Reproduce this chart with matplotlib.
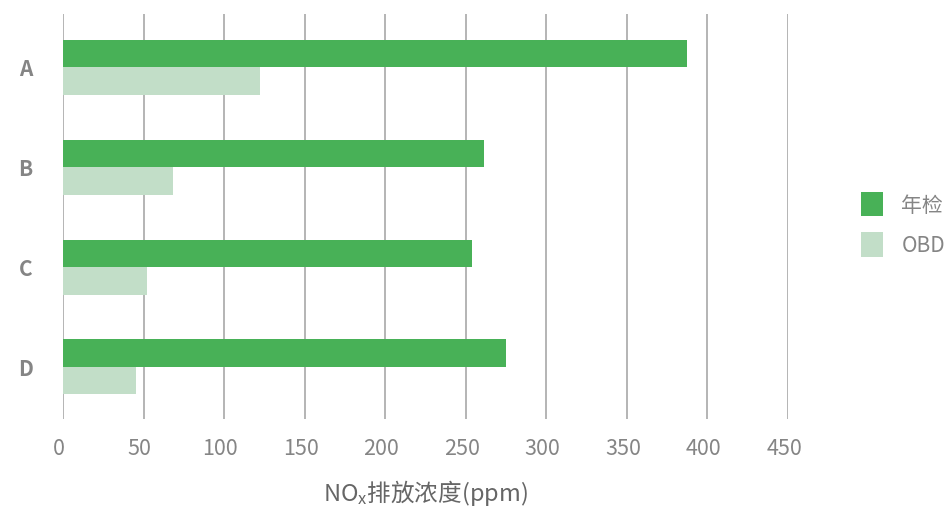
import matplotlib
matplotlib.use("Agg")
import matplotlib.pyplot as plt
import matplotlib.transforms as mtransforms
import numpy as np

plt.rcParams['font.family'] = ['Noto Sans CJK SC', 'DejaVu Sans']
plt.rcParams['mathtext.fontset'] = 'custom'
plt.rcParams['mathtext.rm'] = 'Noto Sans CJK SC'
plt.rcParams['mathtext.it'] = 'Noto Sans CJK SC'

categories = ['A', 'B', 'C', 'D']
series_names = ['年检', 'OBD']
annual = [387, 261, 254, 275]
obd = [122, 68, 52, 45]
xticks = [0, 50, 100, 150, 200, 250, 300, 350, 400, 450]

c_annual = '#48b157'
c_obd = '#c2dec8'
grey = '#858585'

fig = plt.figure(figsize=(9.47, 5.10), dpi=100)
ax = fig.add_axes([63/947, 1 - 420/510, (788-63)/947, (420-15)/510])

y = np.arange(len(categories))
h = 0.275
ax.barh(y - h/2, annual, height=h, color=c_annual, label=series_names[0], zorder=3)
ax.barh(y + h/2, obd, height=h, color=c_obd, label=series_names[1], zorder=3)

ax.set_xlim(0, 450)
ax.set_ylim(3.52, -0.53)
ax.set_xticks(xticks)
ax.set_xticklabels([str(t) for t in xticks], color=grey, fontsize=15.5, fontweight='medium')
ax.set_yticks(y)
ax.set_yticklabels(categories, color=grey, fontsize=15, fontweight='bold')
ax.tick_params(axis='both', length=0)
ax.tick_params(axis='x', pad=13)
for lbl in ax.get_yticklabels():
    lbl.set_horizontalalignment('center')
ax.tick_params(axis='y', pad=27)
shift = mtransforms.ScaledTranslation(-4/100, 0, fig.dpi_scale_trans)
for lbl in ax.get_xticklabels():
    lbl.set_transform(lbl.get_transform() + shift)
ax.grid(axis='x', color='#a8a8a8', linewidth=1.2, zorder=0)
for s in ax.spines.values():
    s.set_visible(False)

ax.set_xlabel(r'NO$_{\mathrm{x}}$排放浓度(ppm)', color='#666666', fontsize=17,
              fontweight='medium', labelpad=13)

leg = fig.legend(loc='upper left', bbox_to_anchor=(842/947, 1 - 174/510), frameon=False,
                 prop={'size': 15, 'weight': 'medium'}, handlelength=1.05, handleheight=1.45,
                 labelspacing=0.75, handletextpad=0.9)
for t in leg.get_texts():
    t.set_color(grey)

fig.savefig('out.png', dpi=100)
